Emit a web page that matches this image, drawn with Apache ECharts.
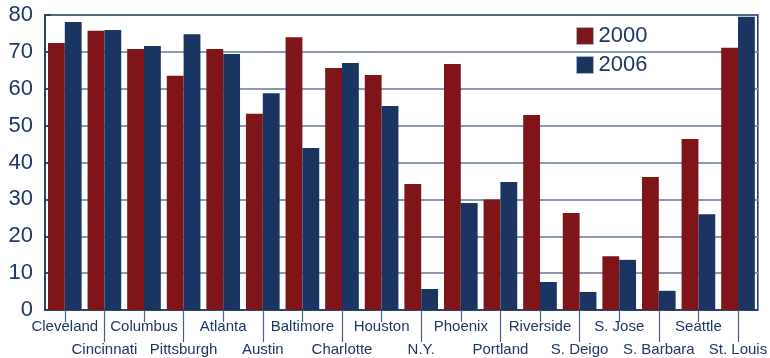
<!DOCTYPE html>
<html>
<head>
<meta charset="utf-8">
<script src="https://cdn.jsdelivr.net/npm/echarts@6/dist/echarts.min.js"></script>
<style>
  html, body { margin: 0; padding: 0; background: #ffffff; }
  #chart { width: 770px; height: 358px; }
</style>
</head>
<body>
<div id="chart"></div>
<script>
// City categories along the x axis
const cities = ['Cleveland', 'Cincinnati', 'Columbus', 'Pittsburgh', 'Atlanta', 'Austin',
  'Baltimore', 'Charlotte', 'Houston', 'N.Y.', 'Phoenix', 'Portland', 'Riverside',
  'S. Deigo', 'S. Jose', 'S. Barbara', 'Seattle', 'St. Louis'];

// Values per city for each year
const values2000 = [72.4, 75.7, 70.8, 63.5, 70.8, 53.2, 74.0, 65.6, 63.7, 34.2,
  66.7, 30.0, 52.9, 26.3, 14.6, 36.1, 46.4, 71.1];
const values2006 = [78.1, 75.9, 71.6, 74.8, 69.4, 58.8, 43.9, 67.0, 55.3, 5.7,
  29.0, 34.7, 7.6, 4.9, 13.6, 5.2, 26.0, 79.5];

// Y axis range and step
const yMin = 0, yMax = 80, yStep = 10;

const navy = '#1e3764';
const red = '#7f1518';
const blue = '#1b3562';
const tickColor = '#4a5f84';
const font = 'Liberation Sans, Arial, sans-serif';

const chart = echarts.init(document.getElementById('chart'));

const isEven = (i) => i % 2 === 0;
const isOdd = (i) => i % 2 === 1;

chart.setOption({
  animation: false,
  backgroundColor: '#ffffff',
  textStyle: { fontFamily: font },
  grid: {
    left: 45, right: 5, top: 15, bottom: 48,
    show: true, borderColor: navy, borderWidth: 1.5, backgroundColor: 'transparent'
  },
  legend: {
    orient: 'vertical',
    left: 571, top: 20,
    icon: 'rect',
    itemWidth: 17, itemHeight: 17, itemGap: 7,
    textStyle: { color: navy, fontSize: 22, fontFamily: font, lineHeight: 22 },
    itemStyle: { borderColor: '#aab3c6', borderWidth: 1 },
    data: ['2000', '2006']
  },
  xAxis: [
    {
      // axis carrying the bars, short ticks under the upper-row names
      type: 'category', position: 'bottom', data: cities,
      axisLine: { show: true, lineStyle: { color: navy, width: 1.5 } },
      axisTick: { show: true, alignWithLabel: true, length: 12, interval: (i) => isEven(i),
        lineStyle: { color: tickColor, width: 1.2 } },
      axisLabel: { show: true, interval: (i) => isEven(i), color: 'rgba(0,0,0,0)', fontSize: 15, margin: 12, fontFamily: font }
    },
    {
      // lower label row, long ticks reaching down to it
      type: 'category', position: 'bottom', data: cities,
      axisLine: { show: false },
      axisTick: { show: true, alignWithLabel: true, length: 32, interval: (i) => isOdd(i),
        lineStyle: { color: tickColor, width: 1.2 } },
      axisLabel: { interval: (i) => isOdd(i), color: navy, fontSize: 15, margin: 32, fontFamily: font }
    },
    {
      // upper label row
      type: 'category', position: 'bottom', data: cities,
      axisLine: { show: false },
      axisTick: { show: false },
      axisLabel: { interval: (i) => isEven(i), color: navy, fontSize: 15, margin: 9, fontFamily: font }
    }
  ],
  yAxis: {
    type: 'value', min: yMin, max: yMax, interval: yStep,
    axisLine: { show: true, lineStyle: { color: navy, width: 1.5 } },
    axisTick: { show: true, inside: true, length: 6, lineStyle: { color: navy, width: 1.5 } },
    axisLabel: { color: navy, fontSize: 22, margin: 12, fontFamily: font },
    splitLine: { show: true, showMinLine: false, showMaxLine: false,
      lineStyle: { color: '#8a98b0', width: 1.8 } }
  },
  series: [
    {
      name: '2000', type: 'bar', xAxisIndex: 0, data: values2000,
      itemStyle: { color: red },
      barGap: '0%', barCategoryGap: '15%'
    },
    {
      name: '2006', type: 'bar', xAxisIndex: 0, data: values2006,
      itemStyle: { color: blue },
      barGap: '0%', barCategoryGap: '15%'
    }
  ]
});
</script>
</body>
</html>
